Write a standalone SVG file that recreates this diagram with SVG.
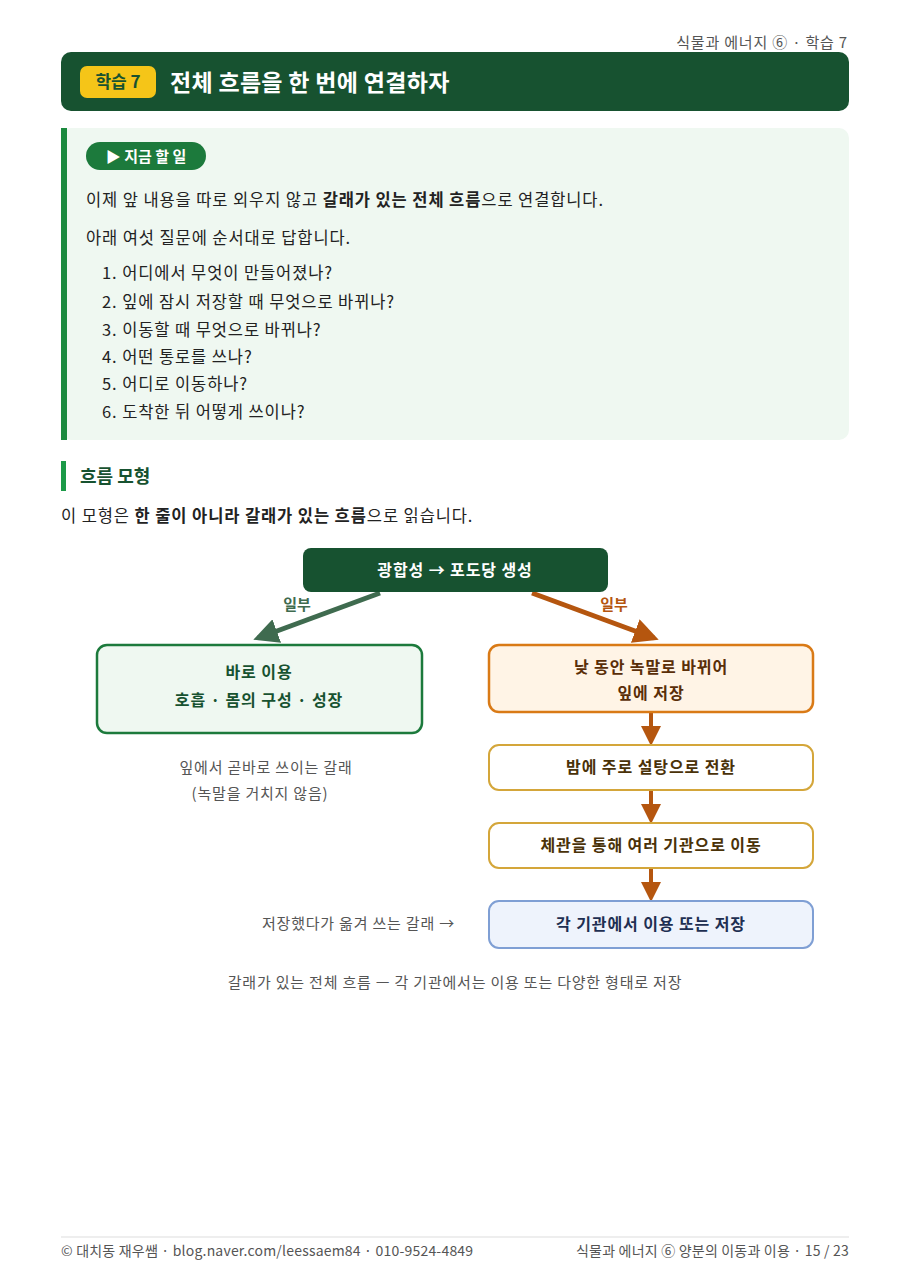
<svg xmlns="http://www.w3.org/2000/svg" width="911" height="1287" viewBox="0 0 911 1287">
<style>
text{font-family:"Noto Sans CJK KR","Noto Sans",sans-serif}
.b{font-size:16.5px;letter-spacing:0.9px;fill:#222}
.s{font-size:15px;letter-spacing:0.8px;fill:#555}
.bold{font-weight:700}
.nt{font-size:16px;letter-spacing:0.9px;font-weight:700;text-anchor:middle}
</style>
<defs>
<marker id="ag" viewBox="0 0 10 10" refX="8" refY="5" markerWidth="5" markerHeight="5" orient="auto"><path d="M0,0L10,5L0,10z" fill="#3f6b4f"/></marker>
<marker id="ao" viewBox="0 0 10 10" refX="8" refY="5" markerWidth="5" markerHeight="5" orient="auto"><path d="M0,0L10,5L0,10z" fill="#b5560f"/></marker>
</defs>
<rect width="911" height="1287" fill="#fff"/>
<text x="848" y="48" text-anchor="end" class="s">식물과 에너지 ⑥ · 학습 7</text>
<rect x="61" y="52" width="788" height="59" rx="10" fill="#175230"/>
<rect x="80" y="66" width="76" height="32" rx="7" fill="#f5c518"/>
<text x="118" y="88" text-anchor="middle" font-size="17" font-weight="700" fill="#175230">학습 7</text>
<text x="170" y="91" font-size="23" letter-spacing="0.3" font-weight="700" fill="#fff">전체 흐름을 한 번에 연결하자</text>
<rect x="61" y="128" width="788" height="312" rx="10" fill="#eff8f1"/>
<rect x="61" y="128" width="6" height="312" fill="#1c8a3f"/>
<rect x="86" y="142" width="120" height="28" rx="14" fill="#1c7a3c"/>
<text x="146" y="162" text-anchor="middle" font-size="15" font-weight="700" fill="#fff">▶ 지금 할 일</text>
<text x="86" y="206" class="b">이제 앞 내용을 따로 외우지 않고 <tspan class="bold">갈래가 있는 전체 흐름</tspan>으로 연결합니다.</text>
<text x="86" y="244" class="b">아래 여섯 질문에 순서대로 답합니다.</text>
<text x="102" y="279" class="b">1. 어디에서 무엇이 만들어졌나?</text>
<text x="102" y="308" class="b">2. 잎에 잠시 저장할 때 무엇으로 바뀌나?</text>
<text x="102" y="336" class="b">3. 이동할 때 무엇으로 바뀌나?</text>
<text x="102" y="363" class="b">4. 어떤 통로를 쓰나?</text>
<text x="102" y="390" class="b">5. 어디로 이동하나?</text>
<text x="102" y="418" class="b">6. 도착한 뒤 어떻게 쓰이나?</text>
<rect x="61" y="461" width="5" height="30" fill="#1c9a48"/>
<text x="80" y="483" font-size="18" font-weight="700" fill="#175230">흐름 모형</text>
<text x="61" y="522" class="b">이 모형은 <tspan class="bold">한 줄이 아니라 갈래가 있는 흐름</tspan>으로 읽습니다.</text>
<g id="connectors">
<line x1="380" y1="593" x2="258" y2="638" stroke="#3f6b4f" stroke-width="5" marker-end="url(#ag)"/>
<line x1="532" y1="593" x2="654" y2="638" stroke="#b5560f" stroke-width="5" marker-end="url(#ao)"/>
<line x1="651" y1="712" x2="651" y2="742" stroke="#b5560f" stroke-width="4" marker-end="url(#ao)"/>
<line x1="651" y1="790" x2="651" y2="820" stroke="#b5560f" stroke-width="4" marker-end="url(#ao)"/>
<line x1="651" y1="868" x2="651" y2="898" stroke="#b5560f" stroke-width="4" marker-end="url(#ao)"/>
<text x="297" y="610" text-anchor="middle" font-size="15" font-weight="700" fill="#3f6b4f">일부</text>
<text x="614" y="610" text-anchor="middle" font-size="15" font-weight="700" fill="#b5560f">일부</text>
</g>
<g id="n-top"><rect x="303" y="548" width="305" height="44" rx="8" fill="#175230"/><text x="455" y="576" class="nt" font-size="17" fill="#fff">광합성 → 포도당 생성</text></g>
<g id="n-use"><rect x="97" y="645" width="325" height="88" rx="10" fill="#eff8f1" stroke="#1c7a3c" stroke-width="2.5"/><text x="259" y="678" class="nt" fill="#175230">바로 이용</text><text x="259" y="706" class="nt" font-size="15" fill="#175230">호흡 · 몸의 구성 · 성장</text></g>
<text x="266" y="773" text-anchor="middle" class="s">잎에서 곧바로 쓰이는 갈래</text>
<text x="260" y="799" text-anchor="middle" class="s">(녹말을 거치지 않음)</text>
<g id="n-starch"><rect x="489" y="645" width="324" height="67" rx="10" fill="#fff4e6" stroke="#d97a16" stroke-width="2.5"/><text x="651" y="673" class="nt" fill="#5a2e08">낮 동안 녹말로 바뀌어</text><text x="651" y="699" class="nt" fill="#5a2e08">잎에 저장</text></g>
<g id="n-sugar"><rect x="489" y="745" width="324" height="45" rx="10" fill="#fff" stroke="#d4a63a" stroke-width="2"/><text x="651" y="773" class="nt" fill="#4a3208">밤에 주로 설탕으로 전환</text></g>
<g id="n-move"><rect x="489" y="823" width="324" height="45" rx="10" fill="#fff" stroke="#d4a63a" stroke-width="2"/><text x="651" y="851" class="nt" fill="#4a3208">체관을 통해 여러 기관으로 이동</text></g>
<g id="n-store"><rect x="489" y="901" width="324" height="47" rx="10" fill="#eef3fc" stroke="#7f9fd4" stroke-width="2"/><text x="651" y="930" class="nt" fill="#1e2f52">각 기관에서 이용 또는 저장</text></g>
<text x="455" y="929" text-anchor="end" class="s">저장했다가 옮겨 쓰는 갈래 →</text>
<text x="455" y="988" text-anchor="middle" class="s">갈래가 있는 전체 흐름 ㅡ 각 기관에서는 이용 또는 다양한 형태로 저장</text>
<line x1="61" y1="1237" x2="849" y2="1237" stroke="#ddd"/>
<text x="61" y="1256" font-size="14" letter-spacing="0.2" fill="#555">© 대치동 재우쌤 · blog.naver.com/leessaem84 · 010-9524-4849</text>
<text x="849" y="1256" text-anchor="end" font-size="14" letter-spacing="0.2" fill="#555">식물과 에너지 ⑥ 양분의 이동과 이용 · 15 / 23</text>
</svg>
